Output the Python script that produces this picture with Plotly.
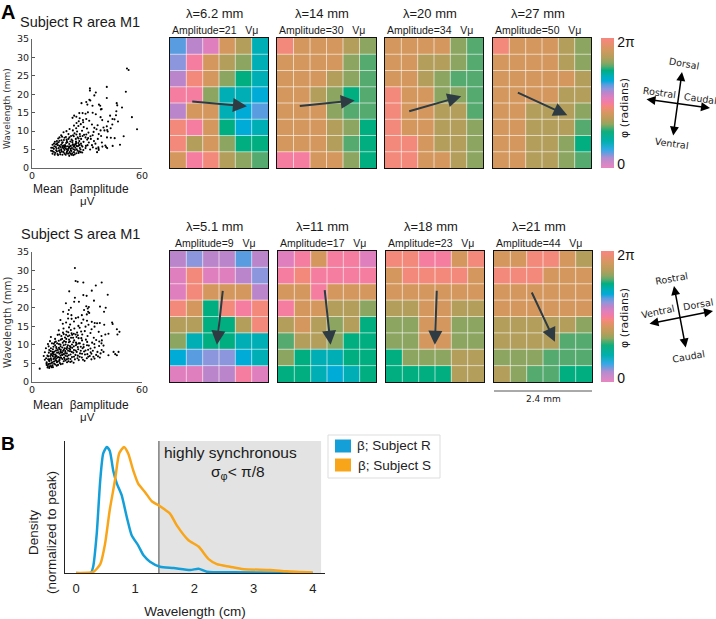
import plotly.graph_objects as go

W, H = 716, 619

# ---------------- data ----------------
r_scatter = [
(51.8,27.0),(52.7,26.6),(51.2,20.7),(54.5,13.8),(57.3,10.5),(50.0,8.6),(48.0,6.3),(31.6,21.6),(31.6,21.0),(34.8,20.5),
(34.0,19.7),(40.8,22.0),(40.8,19.0),(27.0,17.6),(31.3,18.5),(30.2,17.2),(29.6,17.9),(31.8,18.3),(33.0,16.9),(36.5,17.2),
(37.2,16.9),(38.0,16.0),(37.6,15.9),(46.2,17.6),(46.5,17.0),(49.1,16.4),(46.0,15.4),(45.8,14.3),(42.6,14.2),(43.9,13.3),
(45.0,13.2),(46.9,12.6),(41.5,12.6),(43.8,11.8),(42.9,10.8),(40.8,11.3),(39.0,11.0),(39.5,10.2),(41.0,10.3),(41.3,9.9),
(38.3,13.0),(37.4,13.8),(34.8,14.6),(33.1,15.0),(30.5,15.1),(29.2,14.7),(27.6,14.9),(25.8,14.9),(24.2,13.9),(22.1,13.6),
(23.0,14.2),(26.0,13.5),(27.8,13.0),(29.6,13.3),(31.2,12.8),(24.3,12.2),(25.5,12.7),(26.6,11.9),(27.9,12.4),(22.9,11.5),
(24.1,10.8),(25.3,11.4),(28.2,11.1),(30.0,10.7),(32.7,11.8),(34.0,10.9),(35.8,11.6),(33.6,9.8),(35.2,10.5),(36.4,9.2),
(37.4,10.2),(33.1,8.9),(30.8,9.6),(29.2,8.3),(27.3,10.1),(26.1,9.2),(24.6,9.9),(22.3,10.2),(20.5,10.6),(18.8,10.0),
(17.2,9.7),(15.9,8.9),(18.5,8.4),(19.9,9.2),(21.3,8.7),(23.2,9.4),(24.9,8.3),(26.8,7.9),(28.4,9.0),(30.1,7.7),
(31.9,8.6),(33.8,7.3),(35.9,7.9),(37.7,8.7),(40.9,8.3),(43.0,8.2),(45.1,8.1),(14.3,8.0),(16.1,7.5),(17.7,8.2),
(19.0,7.3),(20.4,8.3),(21.6,7.7),(22.8,8.6),(24.0,7.2),(25.4,8.0),(26.7,6.6),(28.1,7.1),(29.4,6.0),(31.0,6.9),
(32.7,6.2),(34.6,6.6),(36.2,5.6),(38.1,6.9),(40.0,6.1),(11.2,6.3),(12.5,7.1),(13.7,6.7),(15.0,7.4),(15.9,6.3),
(16.8,7.0),(17.6,5.6),(18.6,6.8),(19.6,5.9),(20.3,6.5),(21.1,5.2),(22.0,7.0),(22.7,5.8),(23.5,6.4),(24.4,5.1),
(25.3,6.8),(26.1,5.4),(27.0,6.1),(28.0,4.9),(29.2,5.4),(30.3,6.2),(31.7,5.0),(33.2,5.6),(35.0,5.3),(36.4,4.9),
(38.4,5.8),(40.4,5.7),(41.0,5.4),(44.0,6.0),(36.3,5.2),(35.5,4.3),(12.2,5.9),(13.4,5.3),(14.1,6.2),(14.9,4.8),
(15.6,5.7),(16.3,4.4),(17.0,6.1),(17.7,4.9),(18.3,5.3),(18.9,4.1),(19.6,4.8),(20.2,5.5),(20.9,3.9),(21.5,4.6),
(22.2,6.3),(22.9,4.3),(23.6,5.5),(24.2,4.0),(25.0,5.9),(25.7,4.5),(26.5,5.0),(27.4,4.2),(10.5,5.5),(11.1,4.6),
(11.9,5.2),(12.6,4.1),(13.2,4.8),(13.9,3.8),(14.6,5.4),(15.3,4.2),(15.9,5.1),(16.6,3.6),(17.2,5.3),(17.8,3.9),
(18.5,5.8),(19.1,4.5),(19.8,5.2),(20.5,4.3),(21.2,6.0),(21.9,4.0),(22.6,5.1),(23.3,3.7),(24.0,6.6),(24.8,4.7),
(25.6,6.1),(26.6,4.3),(10.4,4.7),(11.2,3.9),(11.8,4.4),(12.4,3.6),(13.0,5.7),(13.6,4.5),(14.2,3.5),(14.8,4.6),
(15.4,3.7),(16.0,4.7),(16.6,5.6),(17.2,4.3),(17.8,5.8),(18.4,3.6),(19.0,5.1),(19.7,3.9),(20.4,5.7),(21.1,4.8),
(21.8,5.4),(22.5,3.5),(23.4,4.9),(24.3,6.0),(25.4,4.1),(20.3,3.3),(21.6,3.6),(13.1,6.4),(15.0,6.0),(16.4,6.8),
(18.0,6.2),(19.3,7.0),(20.9,7.2),(22.3,6.4),(24.1,6.8),(25.8,7.3),(16.8,5.9),(18.9,7.7),(20.7,5.9),(14.5,7.0),
(22.4,8.9),(24.2,9.1),(26.2,8.6),(27.6,8.7),(29.6,9.1),(30.6,8.1),(32.1,7.9),(22.1,7.4),(23.9,7.9),(25.8,6.3),
(27.5,5.8),(19.9,7.9),(17.4,7.6),(15.0,8.3),(16.4,8.5),(13.6,7.3),(12.0,6.6),(11.3,5.5),(18.2,6.0),(23.0,6.0),
]
s_scatter = [
(23.4,30.7),(23.8,27.2),(24.9,27.0),(28.0,26.8),(20.3,24.4),(34.8,26.0),(38.0,26.8),(32.6,24.6),(41.3,23.5),(28.0,23.4),
(29.8,23.2),(23.4,22.7),(23.0,21.6),(25.6,21.6),(33.8,21.9),(18.5,21.2),(40.2,20.0),(37.1,20.3),(39.3,18.9),(43.7,16.0),
(44.0,15.6),(46.3,14.2),(47.7,13.5),(46.6,12.8),(41.7,13.0),(44.5,8.1),(47.2,8.1),(45.4,7.5),(46.3,7.2),(41.7,7.2),
(38.0,8.6),(39.0,8.1),(37.0,6.6),(33.5,6.8),(4.2,3.6),(29.6,20.4),(30.4,19.8),(31.0,20.2),(30.6,18.9),(29.9,18.2),
(31.2,18.6),(28.4,19.4),(21.2,20.0),(20.1,19.4),(17.0,18.9),(19.6,18.3),(21.5,18.0),(27.2,18.0),(25.2,17.4),(23.9,17.2),
(21.6,17.0),(19.7,17.1),(15.5,16.7),(28.0,16.8),(30.0,16.5),(32.6,16.2),(34.2,15.9),(35.5,15.8),(37.0,15.9),(39.4,15.4),
(16.8,15.7),(18.6,16.0),(20.8,15.5),(22.9,16.3),(25.3,15.1),(27.0,15.9),(29.2,14.9),(30.8,15.4),(32.5,14.2),(34.1,14.9),
(36.4,13.5),(37.9,12.4),(17.2,14.4),(18.9,13.6),(20.2,14.7),(21.6,13.1),(23.1,14.4),(24.6,13.3),(26.0,14.6),(27.4,12.8),
(28.8,13.7),(30.3,12.4),(31.9,13.2),(33.7,11.9),(38.1,11.2),(40.0,12.8),(14.6,13.9),(12.6,11.6),(14.0,12.7),(15.7,11.4),
(17.3,12.9),(18.5,10.8),(19.6,12.3),(20.7,10.9),(21.9,12.7),(23.0,11.2),(24.3,12.1),(25.5,10.4),(26.9,11.8),(28.1,10.1),
(29.4,11.4),(31.0,9.8),(32.8,10.6),(35.0,11.3),(36.6,9.7),(37.9,10.4),(10.3,12.1),(11.9,10.3),(13.2,9.4),(14.6,11.1),
(15.7,8.7),(16.8,10.6),(17.8,9.1),(18.7,11.6),(19.7,8.4),(20.7,9.7),(21.7,8.1),(22.8,9.6),(23.8,8.5),(25.0,9.4),
(26.2,7.7),(27.6,9.1),(28.9,7.4),(30.6,8.7),(32.4,7.6),(34.2,9.3),(35.7,8.1),(37.4,7.7),(39.0,9.8),(9.8,11.0),
(11.4,8.8),(12.6,9.9),(13.7,7.9),(14.7,10.2),(15.6,7.1),(16.5,9.3),(17.4,7.5),(18.3,10.1),(19.2,6.9),(20.1,10.7),
(21.0,7.4),(21.9,9.2),(22.9,6.8),(23.9,9.9),(25.0,7.1),(26.1,10.4),(27.2,6.6),(28.4,8.2),(29.9,6.4),(31.5,7.0),
(33.2,8.4),(35.0,7.3),(36.7,10.9),(8.7,10.2),(10.3,9.1),(11.4,6.9),(12.3,8.2),(13.2,6.3),(14.1,8.6),(15.0,6.0),
(15.8,7.9),(16.6,6.2),(17.4,8.7),(18.2,5.8),(19.0,7.7),(19.8,6.3),(20.7,8.3),(21.6,5.6),(22.5,7.9),(23.4,6.1),
(24.4,8.1),(25.5,5.9),(26.6,8.4),(27.8,6.0),(29.2,8.5),(30.7,6.8),(32.4,6.1),(34.0,10.2),(36.0,6.9),(7.6,9.1),
(9.2,7.9),(10.3,6.4),(11.2,8.1),(12.0,5.5),(12.8,7.4),(13.6,5.3),(14.4,6.7),(15.2,5.1),(15.9,6.5),(16.7,4.9),
(17.5,6.6),(18.3,7.1),(19.1,5.3),(20.0,7.2),(20.9,5.4),(21.8,6.7),(22.7,5.2),(23.7,7.3),(24.8,6.4),(26.0,6.8),
(27.3,7.6),(28.7,5.7),(30.2,7.5),(31.9,9.0),(34.1,6.3),(7.0,8.0),(8.4,7.1),(9.5,5.6),(10.4,7.5),(11.2,5.2),
(12.0,6.4),(12.7,4.7),(13.4,7.0),(14.2,4.6),(14.9,5.7),(15.7,4.8),(16.5,7.3),(17.3,5.6),(18.1,7.8),(19.0,8.9),
(19.9,5.6),(20.8,8.8),(21.8,10.1),(22.9,8.6),(24.0,10.6),(25.2,8.8),(26.6,9.5),(28.2,9.4),(30.0,9.9),(32.0,8.0),
(6.4,7.0),(7.7,6.4),(8.8,6.9),(9.7,4.9),(10.5,5.9),(11.2,4.5),(12.0,7.4),(12.7,5.9),(13.4,9.0),(14.1,5.5),
(14.9,7.6),(15.6,8.3),(16.4,11.6),(17.3,9.9),(18.2,8.3),(19.2,9.4),(20.2,11.4),(21.3,11.9),(22.5,10.7),(23.8,12.8),
(25.4,11.8),(27.3,11.2),(30.1,10.8),(7.0,6.0),(8.0,5.3),(8.9,4.8),(9.6,6.1),(10.3,4.3),(11.0,7.2),(11.7,6.2),
(12.4,10.7),(13.1,8.5),(13.9,6.6),(14.7,9.2),(15.6,9.6),(16.5,8.0),(17.5,11.0),(18.6,12.7),(19.8,13.4),(21.2,14.0),
(22.8,13.0),(25.0,12.6),(7.9,5.0),(8.6,4.3),(9.3,5.8),(10.0,7.0),(10.7,4.0),(11.4,7.7),(12.1,4.9),(12.9,7.0),
(13.7,10.4),(14.5,8.0),(15.5,10.1),(16.6,7.4),(17.8,6.2),(19.6,9.9),(21.0,6.2),(8.0,4.6),(8.8,6.1),(9.5,4.2),
(10.2,8.3),(10.9,5.3),(11.7,9.5),(12.6,6.7),(13.5,4.4),(15.0,8.9),(8.5,3.9),(9.4,3.8),(10.3,5.0),(11.4,4.0),
(9.1,9.6),(10.9,10.4),(13.0,10.9),(14.9,12.8),(16.9,13.3),(18.7,9.0),(20.3,9.0),(11.7,8.0),(13.2,5.7),(15.2,6.5),
(17.0,8.4),(19.0,6.1),(21.0,9.4),(16.0,12.4),(18.0,12.0),(20.4,12.5),(22.4,11.9),(24.4,10.2),(26.8,13.6),(9.4,8.6),
]
r_grids = [
    ["BUMOYT", "VPOYGT", "USOGET", "PPGTTC", "UOOTCB", "SPOECT", "SYOGEE", "OPSYGg"],
    ["SOOOYG", "OOOOGg", "OOOYGg", "OOYGEg", "OOOGgg", "OOOYGE", "OOOYgE", "PPOOGE"],
    ["OOOOGg", "OOYYGg", "OOYGgg", "SOOGGg", "SOOYYg", "SOOYYG", "SSOYYG", "SSOOYG"],
    ["SOOOYG", "OOOOYG", "OOOOOY", "OOOOYY", "OOYYYG", "OOYYYg", "OOYYGE", "OOYYGg"],
]
s_grids = [
    ["UVUUBU", "MSMMUV", "MSOOOU", "SOESPS", "YYEEYS", "GTEETT", "CBVVCT", "MMUUPM"],
    ["MPOPPM", "PSPPPP", "OOPOOO", "POOYYG", "YOYGYE", "gYYGEE", "GETTEE", "EETCTE"],
    ["SSPPOS", "OSSSSO", "OOOOOO", "YYOOYY", "GGOOGG", "GGOOGG", "EGGGYY", "EEEEYY"],
    ["OOSSOY", "SSSOOO", "OOOOOO", "OOOOOO", "YYYYYG", "YYYYgg", "GGGggg", "YGggEE"],
]
# phase (fraction of 2*pi) of each cell letter
phase_of = {"P": .50, "M": .54, "U": .58, "V": .61, "B": .64, "C": .67, "T": .71, "E": .75,
            "g": .78, "G": .81, "Y": .85, "O": .91, "S": .98}
r_wavelengths = ["6.2", "14", "20", "27"]
s_wavelengths = ["5.1", "11", "18", "21"]
r_amplitudes = [21, 30, 34, 50]
s_amplitudes = [9, 17, 23, 44]
# wave direction arrows, in grid-cell units: tail x, tail y, tip x, tip y
r_arrows = [(1.27, 3.9, 4.71, 4.2), (1.29, 4.2, 4.71, 3.84), (1.39, 4.53, 4.67, 3.59), (1.43, 3.32, 4.55, 4.76)]
s_arrows = [(3.24, 2.34, 2.87, 5.72), (2.85, 2.3, 3.22, 5.72), (3.11, 2.34, 2.99, 5.72), (2.27, 2.44, 3.73, 5.54)]

density_x_r = [0, .25, .29, .35, .41, .46, .52, .57, .63, .69, .77, .86, .94, 1.05, 1.14, 1.25, 1.42, 1.65, 1.93, 2.07, 2.21, 2.66, 4.0]
density_r = [0, 0, .05, .31, .74, .95, 1, .97, .81, .71, .62, .44, .30, .22, .14, .09, .05, .04, .024, .034, .01, .005, 0]
density_x_s = [0, .29, .41, .49, .57, .66, .73, .81, .88, .97, 1.05, 1.17, 1.28, 1.42, 1.59, 1.70, 1.90, 2.07, 2.24, 2.38, 2.60, 2.83, 3.28, 3.56, 4.0]
density_s = [0, .008, .07, .23, .50, .74, .95, 1, .95, .81, .71, .64, .57, .53, .47, .38, .26, .21, .11, .07, .05, .03, .024, .013, .003]
synchrony_threshold = 1.4
density_xmax = 4.14

phase_colors = [
    (0, "#e986c0"), (.077, "#b48cd0"), (.14, "#33a9e6"), (.205, "#00b0ae"), (.28, "#10ae7c"), (.335, "#8fa75f"),
    (.37, "#b59d5a"), (.42, "#d4985f"), (.47, "#f3897a"), (.50, "#f47da0"), (.54, "#e07fbd"), (.58, "#bb85cb"),
    (.61, "#8b96dc"), (.64, "#5a9ce0"), (.67, "#00abd8"), (.71, "#00aeb5"), (.75, "#00ae80"), (.78, "#55aa70"),
    (.81, "#8ca662"), (.85, "#b39e5c"), (.91, "#d4985f"), (.98, "#f3897a"), (1, "#f5877f"),
]

# ---------------- layout helpers ----------------
ARIAL = "Liberation Sans, Arial, sans-serif"
DEJAVU = "DejaVu Sans, sans-serif"
fig = go.Figure()
annotations, shapes = [], []
layout = dict(width=W, height=H, margin=dict(l=0, r=0, t=0, b=0, autoexpand=False), autosize=False,
              paper_bgcolor="white", plot_bgcolor="rgba(0,0,0,0)", showlegend=False)
next_axis = [1]


def new_axes(x0, x1, y0, y1, xopts, yopts):
    n = next_axis[0]
    next_axis[0] += 1
    sfx = "" if n == 1 else str(n)
    layout["xaxis" + sfx] = dict(domain=[x0 / W, x1 / W], anchor="y" + sfx, **xopts)
    layout["yaxis" + sfx] = dict(domain=[1 - y1 / H, 1 - y0 / H], anchor="x" + sfx, **yopts)
    return "x" + sfx, "y" + sfx


def text(x, y, s, size=12, family=ARIAL, angle=0, color="#1a1a1a", bold=False):
    annotations.append(dict(xref="paper", yref="paper", x=x / W, y=1 - y / H, text=f"<b>{s}</b>" if bold else s,
                            showarrow=False, textangle=angle, xanchor="center", yanchor="middle",
                            font=dict(size=size, family=family, color=color)))


# ---------------- scatter panels ----------------
title_names = ["Subject R area M1", "Subject S area M1"]


def scatter_panel(points, y0, y1, title_y, label_y, unit_y, ylab_y, ylab_size):
    xa, ya = new_axes(32, 142, y0, y1,
                      dict(range=[0, 60], tickvals=[0, 60], ticks="inside", ticklen=3, tickcolor="#555", showgrid=False,
                           zeroline=False, showline=True, linecolor="#666", linewidth=1, ticklabelstandoff=-1,
                           tickfont=dict(size=9.5, family=DEJAVU, color="#222")),
                      dict(range=[0, 35], tickvals=[0, 5, 10, 15, 20, 25, 30, 35], ticks="inside", ticklen=3,
                           tickcolor="#555", showgrid=False, zeroline=False, showline=True, linecolor="#666", linewidth=1,
                           tickfont=dict(size=9.5, family=DEJAVU, color="#222")))
    fig.add_trace(go.Scatter(x=[p[0] for p in points], y=[p[1] for p in points], mode="markers", xaxis=xa, yaxis=ya,
                             marker=dict(size=2.1, color="black"), cliponaxis=False))
    text(81, label_y, "Mean\u00a0\u00a0\u03b2amplitude", 12)
    text(87, unit_y, "\u03bcV", 11.5)
    text(80, title_y, title_names[0 if y0 < 200 else 1], 14.5)
    text(7, ylab_y, "Wavelength (mm)", ylab_size, DEJAVU, angle=-90, color="#333")


scatter_panel(r_scatter, 39, 168, 22, 189, 201, 109, 9)
scatter_panel(s_scatter, 252, 382, 234, 405, 417, 323, 10.2)


# ---------------- phase maps ----------------
def phase_row(grids, arrows, wavelengths, amps, xs, y0, y1, lam_y, amp_y, with_bar_y):
    for i, (g, ar) in enumerate(zip(grids, arrows)):
        x0, x1 = xs[i]
        xa, ya = new_axes(x0, x1, y0, y1,
                          dict(range=[0, 6], showticklabels=False, ticks="", showgrid=False, zeroline=False,
                               showline=True, mirror=True, linecolor="#111", linewidth=1),
                          dict(range=[8, 0], showticklabels=False, ticks="", showgrid=False, zeroline=False,
                               showline=True, mirror=True, linecolor="#111", linewidth=1))
        z = [[phase_of[c] for c in row] for row in g]
        if i == 3:
            extra = dict(showscale=True, colorbar=dict(
                lenmode="pixels", len=y1 - y0, thicknessmode="pixels", thickness=13, x=601 / W, xanchor="left",
                y=1 - (y0 + y1) / 2 / H, yanchor="middle", xpad=0, ypad=0, outlinewidth=0, ticks="",
                tickvals=[.03, .97], ticktext=["0", "2\u03c0"], tickfont=dict(size=14, family=ARIAL, color="#111")))
        else:
            extra = dict(showscale=False)
        fig.add_trace(go.Heatmap(z=z, x=[.5, 1.5, 2.5, 3.5, 4.5, 5.5], y=[.5, 1.5, 2.5, 3.5, 4.5, 5.5, 6.5, 7.5],
                                 xaxis=xa, yaxis=ya, zmin=0, zmax=1, colorscale=[[a, b] for a, b in phase_colors],
                                 hoverinfo="skip", **extra))
        grid_line = dict(color="rgba(255,255,255,0.6)", width=1)
        for k in range(1, 6):
            shapes.append(dict(type="line", xref=xa, yref=ya, x0=k, x1=k, y0=0, y1=8, line=grid_line))
        for k in range(1, 8):
            shapes.append(dict(type="line", xref=xa, yref=ya, x0=0, x1=6, y0=k, y1=k, line=grid_line))
        cx = (x0 + x1) / 2 - 4.5
        text(cx, lam_y, f"\u03bb={wavelengths[i]} mm", 13)
        text(cx, amp_y, f"Amplitude={amps[i]}\u00a0\u00a0\u00a0V\u03bc", 10.5)
        annotations.append(dict(xref=xa, yref=ya, axref=xa, ayref=ya, ax=ar[0], ay=ar[1], x=ar[2], y=ar[3], text="",
                                showarrow=True, arrowhead=2, arrowsize=1.4, arrowwidth=2, arrowcolor="#2e3b42"))
    text(624, with_bar_y, "\u03c6 (radians)", 11, DEJAVU, angle=-90)


phase_row(r_grids, r_arrows, r_wavelengths, r_amplitudes, [(170, 268), (277, 376), (385, 483), (493, 591)], 38, 168, 13, 30, 108)
phase_row(s_grids, s_arrows, s_wavelengths, s_amplitudes, [(170, 268), (278, 376), (386, 484), (494, 592)], 251, 382, 226, 243, 318)

# ---------------- density panel ----------------
xa, ya = new_axes(65, 325, 441, 573,
                  dict(range=[(65 - 76) / 59.2, (325 - 76) / 59.2], tickvals=[0, 1, 2, 3, 4], ticks="", showgrid=False, zeroline=False,
                       showline=True, linecolor="#222", linewidth=1, ticklabelstandoff=3,
                       tickfont=dict(size=13, family=ARIAL, color="#222"),
                       title=dict(text="Wavelength (cm)", standoff=11, font=dict(size=13.5, family=ARIAL, color="#222"))),
                  dict(range=[0, 1.048], showticklabels=False, ticks="", showgrid=False, zeroline=False,
                       showline=True, linecolor="#222", linewidth=1))
shapes.append(dict(type="rect", xref=xa, yref=ya, x0=synchrony_threshold, x1=density_xmax, y0=0, y1=1.048,
                   fillcolor="#e3e3e3", line_width=0, layer="below"))
shapes.append(dict(type="line", xref=xa, yref=ya, x0=synchrony_threshold, x1=synchrony_threshold, y0=0, y1=1.048,
                   line=dict(color="#7f7f7f", width=1.5), layer="below"))
fig.add_trace(go.Scatter(x=density_x_r, y=density_r, mode="lines", xaxis=xa, yaxis=ya, name="\u03b2; Subject R",
                         line=dict(color="#159fd9", width=2.5, shape="spline", smoothing=.6)))
fig.add_trace(go.Scatter(x=density_x_s, y=density_s, mode="lines", xaxis=xa, yaxis=ya, name="\u03b2; Subject S",
                         line=dict(color="#f9a51a", width=2.5, shape="spline", smoothing=.6)))
text(230, 452, "highly synchronous", 15.5)
text(238, 472, "\u03c3<sub>\u03c6</sub>< \u03c0/8", 15.5)
text(42, 533, "Density<br>(normalized to peak)", 13.5, angle=-90)
# legend box
shapes.append(dict(type="rect", xref="paper", yref="paper", x0=328 / W, x1=440 / W, y0=1 - 478 / H, y1=1 - 435 / H,
                   line=dict(color="#dddddd", width=1), fillcolor="white"))
for yy, col, name in [(446, "#159fd9", "\u03b2; Subject R"), (465, "#f9a51a", "\u03b2; Subject S")]:
    shapes.append(dict(type="rect", xref="paper", yref="paper", x0=335 / W, x1=351 / W, y0=1 - (yy + 6.5) / H, y1=1 - (yy - 6.5) / H,
                       line_width=0, fillcolor=col))
    text(394, yy, name, 13.5, color="#222")

# ---------------- overlay: compasses, scale bar, panel letters ----------------
ox, oy = new_axes(0, W, 0, H, dict(range=[0, W], visible=False, fixedrange=True), dict(range=[H, 0], visible=False, fixedrange=True))
fig.add_trace(go.Scatter(x=[None], y=[None], xaxis=ox, yaxis=oy, hoverinfo="skip"))
compass_lines = [
    ((673, 137), (682, 72)), ((645, 99), (710, 108)),
    ((686, 349), (674, 286)), ((648, 324), (713, 311)),
]
for tail, tip in compass_lines:
    annotations.append(dict(xref=ox, yref=oy, axref=ox, ayref=oy, ax=tail[0], ay=tail[1], x=tip[0], y=tip[1], text="",
                            showarrow=True, arrowhead=2, startarrowhead=2, arrowside="end+start", arrowsize=1.2,
                            startarrowsize=1.2, arrowwidth=1.5, arrowcolor="black"))
for x, y, s, a in [(684, 63, "Dorsal", 10), (659, 92, "Rostral", 8), (700, 98, "Caudal", 8), (672, 143, "Ventral", 8),
                   (671, 278, "Rostral", -10), (658, 311, "Ventral", -12), (698, 305, "Dorsal", -10), (688, 356, "Caudal", -10)]:
    text(x, y, s, 9.5, DEJAVU, angle=a)
shapes.append(dict(type="line", xref=ox, yref=oy, x0=494, x1=592, y0=391, y1=391, line=dict(color="#555", width=1)))
text(543, 399, "2.4 mm", 9, DEJAVU)
text(8, 12, "A", 20, bold=True, color="black")
text(8, 443, "B", 19, bold=True, color="black")

layout["annotations"] = annotations
layout["shapes"] = shapes
fig.update_layout(**layout)
fig.write_html("out.html", post_script="document.body.style.margin='0';document.documentElement.style.overflow='hidden';",
               config=dict(displayModeBar=False))
